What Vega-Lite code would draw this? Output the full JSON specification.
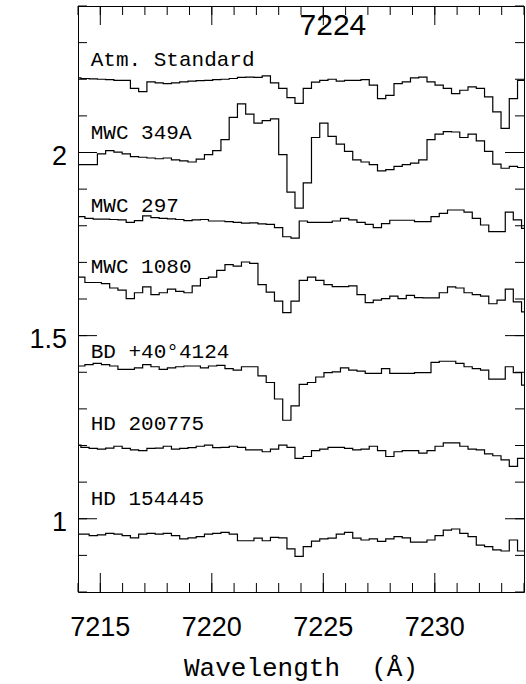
{
  "$schema": "https://vega.github.io/schema/vega-lite/v6.json",
  "width": 446,
  "height": 586,
  "autosize": {"type": "none"},
  "padding": {"left": 78, "top": 6, "right": 2, "bottom": 92},
  "background": "white",
  "config": {
    "view": {"stroke": "black", "strokeWidth": 1}
  },
  "datasets": {
    "xminor": [{"v": 7214}, {"v": 7215}, {"v": 7216}, {"v": 7217}, {"v": 7218}, {"v": 7219}, {"v": 7220}, {"v": 7221}, {"v": 7222}, {"v": 7223}, {"v": 7224}, {"v": 7225}, {"v": 7226}, {"v": 7227}, {"v": 7228}, {"v": 7229}, {"v": 7230}, {"v": 7231}, {"v": 7232}, {"v": 7233}, {"v": 7234}],
    "xmajor": [{"v": 7215}, {"v": 7220}, {"v": 7225}, {"v": 7230}],
    "yminor": [{"v": 0.8}, {"v": 0.9}, {"v": 1.0}, {"v": 1.1}, {"v": 1.2}, {"v": 1.3}, {"v": 1.4}, {"v": 1.5}, {"v": 1.6}, {"v": 1.7}, {"v": 1.8}, {"v": 1.9}, {"v": 2.0}, {"v": 2.1}, {"v": 2.2}, {"v": 2.3}, {"v": 2.4}],
    "ymajor": [{"v": 1.0}, {"v": 1.5}, {"v": 2.0}]
  },
  "layer": [
    {
      "data": {"name": "xminor"},
      "mark": {"type": "rule", "color": "black", "strokeWidth": 1},
      "encoding": {
        "x": {"field": "v", "type": "quantitative", "scale": {"domain": [7214, 7234], "nice": false, "zero": false}, "axis": null},
        "y": {"datum": 0.8, "type": "quantitative", "scale": {"domain": [0.8, 2.4], "nice": false, "zero": false}, "axis": null},
        "y2": {"datum": 0.8246}
      }
    },
    {
      "data": {"name": "xminor"},
      "mark": {"type": "rule", "color": "black", "strokeWidth": 1},
      "encoding": {
        "x": {"field": "v", "type": "quantitative", "axis": null},
        "y": {"datum": 2.4, "type": "quantitative", "axis": null},
        "y2": {"datum": 2.3754}
      }
    },
    {
      "data": {"name": "xmajor"},
      "mark": {"type": "rule", "color": "black", "strokeWidth": 1},
      "encoding": {
        "x": {"field": "v", "type": "quantitative", "axis": null},
        "y": {"datum": 0.8, "type": "quantitative", "axis": null},
        "y2": {"datum": 0.8519}
      }
    },
    {
      "data": {"name": "xmajor"},
      "mark": {"type": "rule", "color": "black", "strokeWidth": 1},
      "encoding": {
        "x": {"field": "v", "type": "quantitative", "axis": null},
        "y": {"datum": 2.4, "type": "quantitative", "axis": null},
        "y2": {"datum": 2.3481}
      }
    },
    {
      "data": {"name": "yminor"},
      "mark": {"type": "rule", "color": "black", "strokeWidth": 1},
      "encoding": {
        "y": {"field": "v", "type": "quantitative", "axis": null},
        "x": {"datum": 7214, "type": "quantitative", "axis": null},
        "x2": {"datum": 7214.404}
      }
    },
    {
      "data": {"name": "yminor"},
      "mark": {"type": "rule", "color": "black", "strokeWidth": 1},
      "encoding": {
        "y": {"field": "v", "type": "quantitative", "axis": null},
        "x": {"datum": 7234, "type": "quantitative", "axis": null},
        "x2": {"datum": 7233.596}
      }
    },
    {
      "data": {"name": "ymajor"},
      "mark": {"type": "rule", "color": "black", "strokeWidth": 1},
      "encoding": {
        "y": {"field": "v", "type": "quantitative", "axis": null},
        "x": {"datum": 7214, "type": "quantitative", "axis": null},
        "x2": {"datum": 7214.852}
      }
    },
    {
      "data": {"name": "ymajor"},
      "mark": {"type": "rule", "color": "black", "strokeWidth": 1},
      "encoding": {
        "y": {"field": "v", "type": "quantitative", "axis": null},
        "x": {"datum": 7234, "type": "quantitative", "axis": null},
        "x2": {"datum": 7233.148}
      }
    },
    {
      "data": {"name": "xmajor"},
      "mark": {"type": "text", "align": "center", "baseline": "alphabetic", "dy": 44, "font": "Liberation Sans", "fontSize": 27, "color": "black"},
      "encoding": {
        "x": {"field": "v", "type": "quantitative", "axis": null},
        "y": {"datum": 0.8, "type": "quantitative", "axis": null},
        "text": {"field": "v", "type": "quantitative", "format": "d"}
      }
    },
    {
      "data": {"name": "ymajor"},
      "mark": {"type": "text", "align": "right", "baseline": "middle", "dx": -11, "dy": 4, "font": "Liberation Sans", "fontSize": 27, "color": "black"},
      "encoding": {
        "y": {"field": "v", "type": "quantitative", "axis": null},
        "x": {"datum": 7214, "type": "quantitative", "axis": null},
        "text": {"field": "v", "type": "quantitative", "format": "~g"}
      }
    },
    {
      "data": {"values": [{"t": "Wavelength \u00a0(Å)", "x": 7224}]},
      "mark": {"type": "text", "align": "center", "baseline": "alphabetic", "dy": 84, "font": "Liberation Mono", "fontSize": 26, "color": "black"},
      "encoding": {
        "x": {"field": "x", "type": "quantitative", "axis": null},
        "y": {"datum": 0.8, "type": "quantitative", "axis": null},
        "text": {"field": "t"}
      }
    },
    {
      "data": {"values": [
        {"x": 7213.76, "atm": 2.204, "m349": 1.967, "hd200775": 1.201, "hd154445": 0.958},
        {"x": 7214.13, "atm": 2.202, "m349": 1.967, "hd200775": 1.195, "hd154445": 0.958},
        {"x": 7214.50, "atm": 2.201, "m349": 1.967, "hd200775": 1.192, "hd154445": 0.954},
        {"x": 7214.87, "atm": 2.200, "m349": 1.996, "hd200775": 1.190, "hd154445": 0.956},
        {"x": 7215.24, "atm": 2.199, "m349": 2.005, "hd200775": 1.193, "hd154445": 0.960},
        {"x": 7215.61, "atm": 2.197, "m349": 2.001, "hd200775": 1.198, "hd154445": 0.958},
        {"x": 7215.98, "atm": 2.197, "m349": 1.996, "hd200775": 1.192, "hd154445": 0.954},
        {"x": 7216.35, "atm": 2.175, "m349": 1.989, "hd200775": 1.188, "hd154445": 0.948},
        {"x": 7216.72, "atm": 2.166, "m349": 1.987, "hd200775": 1.186, "hd154445": 0.958},
        {"x": 7217.09, "atm": 2.193, "m349": 1.985, "hd200775": 1.192, "hd154445": 0.960},
        {"x": 7217.46, "atm": 2.190, "m349": 1.983, "hd200775": 1.193, "hd154445": 0.958},
        {"x": 7217.82, "atm": 2.188, "m349": 1.985, "hd200775": 1.198, "hd154445": 0.960},
        {"x": 7218.19, "atm": 2.190, "m349": 1.980, "hd200775": 1.190, "hd154445": 0.954},
        {"x": 7218.56, "atm": 2.193, "m349": 1.977, "hd200775": 1.192, "hd154445": 0.945},
        {"x": 7218.93, "atm": 2.195, "m349": 1.974, "hd200775": 1.194, "hd154445": 0.948},
        {"x": 7219.30, "atm": 2.196, "m349": 1.982, "hd200775": 1.198, "hd154445": 0.951},
        {"x": 7219.67, "atm": 2.197, "m349": 1.994, "hd200775": 1.201, "hd154445": 0.958},
        {"x": 7220.04, "atm": 2.199, "m349": 2.005, "hd200775": 1.194, "hd154445": 0.960},
        {"x": 7220.41, "atm": 2.200, "m349": 2.035, "hd200775": 1.195, "hd154445": 0.963},
        {"x": 7220.78, "atm": 2.202, "m349": 2.096, "hd200775": 1.198, "hd154445": 0.958},
        {"x": 7221.15, "atm": 2.205, "m349": 2.133, "hd200775": 1.195, "hd154445": 0.940},
        {"x": 7221.52, "atm": 2.206, "m349": 2.105, "hd200775": 1.188, "hd154445": 0.940},
        {"x": 7221.89, "atm": 2.205, "m349": 2.080, "hd200775": 1.188, "hd154445": 0.947},
        {"x": 7222.26, "atm": 2.209, "m349": 2.087, "hd200775": 1.183, "hd154445": 0.940},
        {"x": 7222.63, "atm": 2.190, "m349": 2.092, "hd200775": 1.190, "hd154445": 0.949},
        {"x": 7223.00, "atm": 2.175, "m349": 1.994, "hd200775": 1.201, "hd154445": 0.948},
        {"x": 7223.37, "atm": 2.150, "m349": 1.892, "hd200775": 1.195, "hd154445": 0.918},
        {"x": 7223.73, "atm": 2.134, "m349": 1.848, "hd200775": 1.165, "hd154445": 0.897},
        {"x": 7224.10, "atm": 2.175, "m349": 1.917, "hd200775": 1.170, "hd154445": 0.924},
        {"x": 7224.47, "atm": 2.192, "m349": 2.041, "hd200775": 1.186, "hd154445": 0.939},
        {"x": 7224.84, "atm": 2.197, "m349": 2.080, "hd200775": 1.190, "hd154445": 0.945},
        {"x": 7225.21, "atm": 2.200, "m349": 2.044, "hd200775": 1.195, "hd154445": 0.947},
        {"x": 7225.58, "atm": 2.195, "m349": 2.023, "hd200775": 1.195, "hd154445": 0.958},
        {"x": 7225.95, "atm": 2.197, "m349": 2.003, "hd200775": 1.192, "hd154445": 0.963},
        {"x": 7226.32, "atm": 2.197, "m349": 1.980, "hd200775": 1.188, "hd154445": 0.947},
        {"x": 7226.69, "atm": 2.199, "m349": 1.974, "hd200775": 1.190, "hd154445": 0.942},
        {"x": 7227.06, "atm": 2.184, "m349": 1.967, "hd200775": 1.198, "hd154445": 0.945},
        {"x": 7227.43, "atm": 2.147, "m349": 1.950, "hd200775": 1.186, "hd154445": 0.938},
        {"x": 7227.80, "atm": 2.156, "m349": 1.953, "hd200775": 1.170, "hd154445": 0.945},
        {"x": 7228.17, "atm": 2.188, "m349": 1.962, "hd200775": 1.183, "hd154445": 0.951},
        {"x": 7228.54, "atm": 2.193, "m349": 1.967, "hd200775": 1.186, "hd154445": 0.948},
        {"x": 7228.91, "atm": 2.204, "m349": 1.971, "hd200775": 1.186, "hd154445": 0.936},
        {"x": 7229.28, "atm": 2.206, "m349": 1.980, "hd200775": 1.179, "hd154445": 0.936},
        {"x": 7229.65, "atm": 2.193, "m349": 2.035, "hd200775": 1.186, "hd154445": 0.942},
        {"x": 7230.01, "atm": 2.184, "m349": 2.050, "hd200775": 1.198, "hd154445": 0.954},
        {"x": 7230.38, "atm": 2.175, "m349": 2.057, "hd200775": 1.207, "hd154445": 0.969},
        {"x": 7230.75, "atm": 2.161, "m349": 2.056, "hd200775": 1.207, "hd154445": 0.972},
        {"x": 7231.12, "atm": 2.170, "m349": 2.041, "hd200775": 1.198, "hd154445": 0.960},
        {"x": 7231.49, "atm": 2.179, "m349": 2.050, "hd200775": 1.190, "hd154445": 0.951},
        {"x": 7231.86, "atm": 2.175, "m349": 2.032, "hd200775": 1.188, "hd154445": 0.928},
        {"x": 7232.23, "atm": 2.152, "m349": 2.003, "hd200775": 1.177, "hd154445": 0.924},
        {"x": 7232.60, "atm": 2.111, "m349": 1.968, "hd200775": 1.172, "hd154445": 0.915},
        {"x": 7232.97, "atm": 2.066, "m349": 1.957, "hd200775": 1.161, "hd154445": 0.912},
        {"x": 7233.34, "atm": 2.147, "m349": 1.962, "hd200775": 1.143, "hd154445": 0.942},
        {"x": 7233.71, "atm": 2.197, "m349": 1.959, "hd200775": 1.165, "hd154445": 0.912},
        {"x": 7234.08, "atm": 2.197, "m349": 1.959, "hd200775": 1.165, "hd154445": 0.912}
      ]},
      "transform": [{"fold": ["atm", "m349", "hd200775", "hd154445"], "as": ["star", "flux"]}],
      "mark": {"type": "line", "interpolate": "step-after", "clip": true, "color": "black", "strokeWidth": 1.2},
      "encoding": {
        "x": {"field": "x", "type": "quantitative", "axis": null},
        "y": {"field": "flux", "type": "quantitative", "axis": null},
        "detail": {"field": "star"}
      }
    },
    {
      "data": {"values": [
        {"x": 7213.95, "m297": 1.825, "m1080": 1.660, "bd": 1.417},
        {"x": 7214.31, "m297": 1.820, "m1080": 1.645, "bd": 1.421},
        {"x": 7214.68, "m297": 1.818, "m1080": 1.645, "bd": 1.424},
        {"x": 7215.05, "m297": 1.818, "m1080": 1.642, "bd": 1.421},
        {"x": 7215.42, "m297": 1.817, "m1080": 1.630, "bd": 1.417},
        {"x": 7215.79, "m297": 1.816, "m1080": 1.624, "bd": 1.408},
        {"x": 7216.16, "m297": 1.809, "m1080": 1.601, "bd": 1.408},
        {"x": 7216.53, "m297": 1.814, "m1080": 1.617, "bd": 1.412},
        {"x": 7216.90, "m297": 1.827, "m1080": 1.633, "bd": 1.421},
        {"x": 7217.27, "m297": 1.822, "m1080": 1.612, "bd": 1.415},
        {"x": 7217.64, "m297": 1.820, "m1080": 1.617, "bd": 1.408},
        {"x": 7218.01, "m297": 1.819, "m1080": 1.627, "bd": 1.412},
        {"x": 7218.38, "m297": 1.817, "m1080": 1.621, "bd": 1.415},
        {"x": 7218.75, "m297": 1.814, "m1080": 1.617, "bd": 1.417},
        {"x": 7219.12, "m297": 1.816, "m1080": 1.636, "bd": 1.417},
        {"x": 7219.49, "m297": 1.817, "m1080": 1.656, "bd": 1.412},
        {"x": 7219.85, "m297": 1.813, "m1080": 1.660, "bd": 1.417},
        {"x": 7220.22, "m297": 1.813, "m1080": 1.678, "bd": 1.419},
        {"x": 7220.59, "m297": 1.811, "m1080": 1.694, "bd": 1.410},
        {"x": 7220.96, "m297": 1.809, "m1080": 1.690, "bd": 1.406},
        {"x": 7221.33, "m297": 1.807, "m1080": 1.701, "bd": 1.415},
        {"x": 7221.70, "m297": 1.808, "m1080": 1.697, "bd": 1.415},
        {"x": 7222.07, "m297": 1.805, "m1080": 1.639, "bd": 1.390},
        {"x": 7222.44, "m297": 1.804, "m1080": 1.619, "bd": 1.372},
        {"x": 7222.81, "m297": 1.795, "m1080": 1.594, "bd": 1.327},
        {"x": 7223.18, "m297": 1.770, "m1080": 1.563, "bd": 1.269},
        {"x": 7223.55, "m297": 1.766, "m1080": 1.594, "bd": 1.308},
        {"x": 7223.92, "m297": 1.813, "m1080": 1.651, "bd": 1.367},
        {"x": 7224.29, "m297": 1.809, "m1080": 1.660, "bd": 1.372},
        {"x": 7224.66, "m297": 1.809, "m1080": 1.651, "bd": 1.387},
        {"x": 7225.03, "m297": 1.809, "m1080": 1.639, "bd": 1.399},
        {"x": 7225.40, "m297": 1.813, "m1080": 1.634, "bd": 1.401},
        {"x": 7225.77, "m297": 1.820, "m1080": 1.634, "bd": 1.412},
        {"x": 7226.14, "m297": 1.816, "m1080": 1.636, "bd": 1.406},
        {"x": 7226.51, "m297": 1.809, "m1080": 1.612, "bd": 1.403},
        {"x": 7226.88, "m297": 1.804, "m1080": 1.590, "bd": 1.397},
        {"x": 7227.24, "m297": 1.795, "m1080": 1.597, "bd": 1.397},
        {"x": 7227.61, "m297": 1.806, "m1080": 1.601, "bd": 1.410},
        {"x": 7227.98, "m297": 1.815, "m1080": 1.608, "bd": 1.397},
        {"x": 7228.35, "m297": 1.815, "m1080": 1.601, "bd": 1.397},
        {"x": 7228.72, "m297": 1.815, "m1080": 1.610, "bd": 1.397},
        {"x": 7229.09, "m297": 1.811, "m1080": 1.604, "bd": 1.399},
        {"x": 7229.46, "m297": 1.811, "m1080": 1.603, "bd": 1.399},
        {"x": 7229.83, "m297": 1.825, "m1080": 1.603, "bd": 1.427},
        {"x": 7230.20, "m297": 1.834, "m1080": 1.617, "bd": 1.430},
        {"x": 7230.57, "m297": 1.843, "m1080": 1.633, "bd": 1.430},
        {"x": 7230.94, "m297": 1.843, "m1080": 1.630, "bd": 1.424},
        {"x": 7231.31, "m297": 1.837, "m1080": 1.617, "bd": 1.415},
        {"x": 7231.68, "m297": 1.820, "m1080": 1.612, "bd": 1.410},
        {"x": 7232.05, "m297": 1.802, "m1080": 1.608, "bd": 1.406},
        {"x": 7232.42, "m297": 1.784, "m1080": 1.587, "bd": 1.381},
        {"x": 7232.79, "m297": 1.784, "m1080": 1.597, "bd": 1.381},
        {"x": 7233.16, "m297": 1.837, "m1080": 1.627, "bd": 1.415},
        {"x": 7233.52, "m297": 1.816, "m1080": 1.592, "bd": 1.399},
        {"x": 7233.89, "m297": 1.793, "m1080": 1.565, "bd": 1.365},
        {"x": 7234.26, "m297": 1.793, "m1080": 1.565, "bd": 1.365}
      ]},
      "transform": [{"fold": ["m297", "m1080", "bd"], "as": ["star", "flux"]}],
      "mark": {"type": "line", "interpolate": "step-after", "clip": true, "color": "black", "strokeWidth": 1.2},
      "encoding": {
        "x": {"field": "x", "type": "quantitative", "axis": null},
        "y": {"field": "flux", "type": "quantitative", "axis": null},
        "detail": {"field": "star"}
      }
    },
    {
      "data": {"values": [
        {"name": "Atm. Standard", "x": 7214.57, "y": 2.236},
        {"name": "MWC 349A", "x": 7214.57, "y": 2.038},
        {"name": "MWC 297", "x": 7214.57, "y": 1.838},
        {"name": "MWC 1080", "x": 7214.57, "y": 1.670},
        {"name": "BD +40°4124", "x": 7214.57, "y": 1.4385},
        {"name": "HD 200775", "x": 7214.57, "y": 1.241},
        {"name": "HD 154445", "x": 7214.57, "y": 1.038}
      ]},
      "mark": {"type": "text", "align": "left", "baseline": "alphabetic", "font": "Liberation Mono", "fontSize": 21, "color": "black"},
      "encoding": {
        "x": {"field": "x", "type": "quantitative", "axis": null},
        "y": {"field": "y", "type": "quantitative", "axis": null},
        "text": {"field": "name"}
      }
    },
    {
      "data": {"values": [{"t": "7224", "x": 7225.43, "y": 2.32}]},
      "mark": {"type": "text", "align": "center", "baseline": "alphabetic", "font": "Liberation Sans", "fontSize": 30, "color": "black"},
      "encoding": {
        "x": {"field": "x", "type": "quantitative", "axis": null},
        "y": {"field": "y", "type": "quantitative", "axis": null},
        "text": {"field": "t"}
      }
    }
  ]
}
